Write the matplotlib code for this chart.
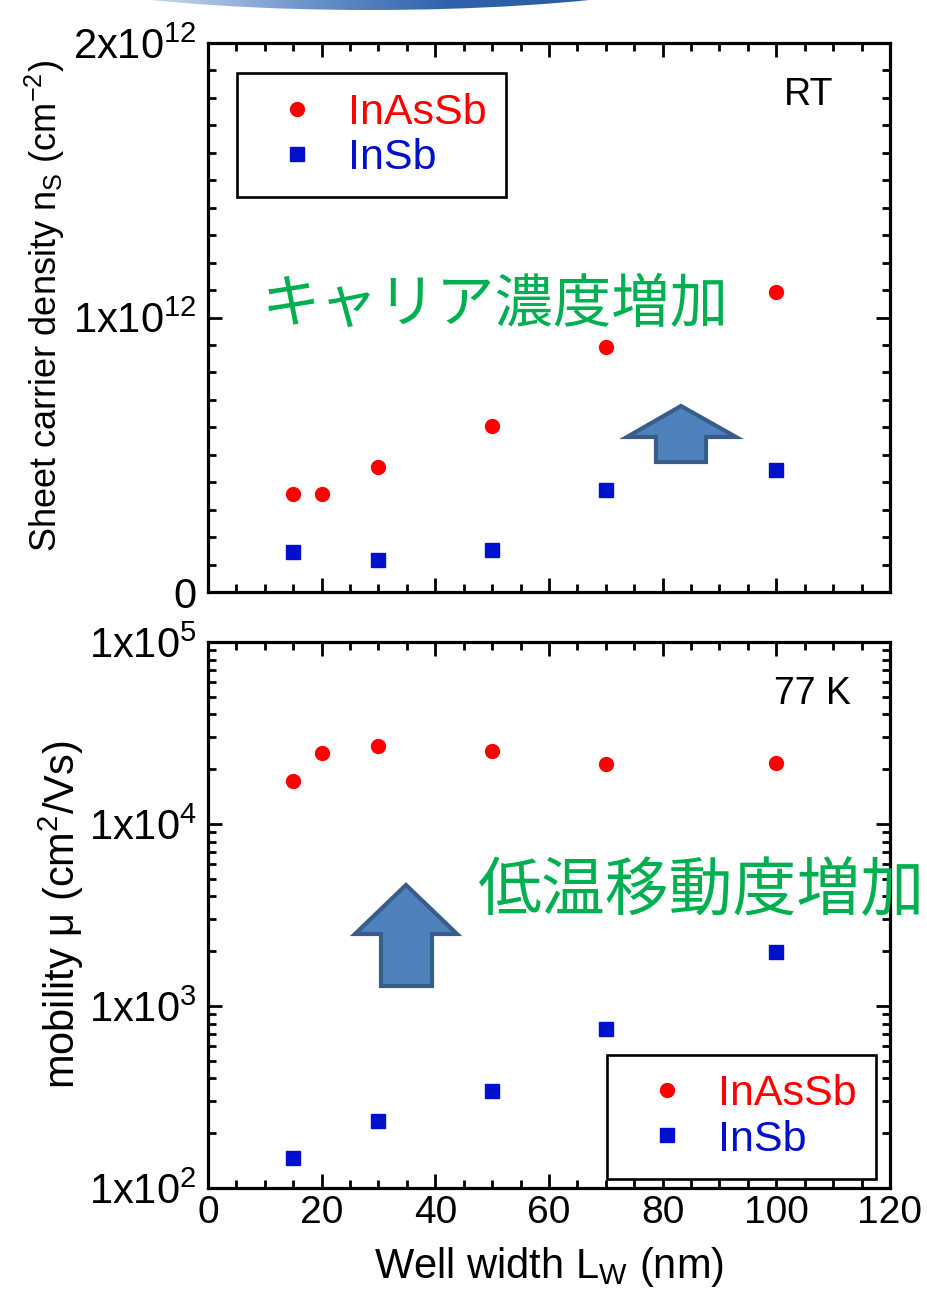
import numpy as np
import matplotlib
matplotlib.use("Agg")
import matplotlib.pyplot as plt
from matplotlib.patches import Polygon, Ellipse
from matplotlib.colors import LinearSegmentedColormap
from matplotlib.ticker import MultipleLocator, FixedLocator, LogLocator, NullFormatter, FuncFormatter

plt.rcParams['font.family'] = ['Liberation Sans', 'DejaVu Sans']
plt.rcParams['mathtext.fontset'] = 'custom'
plt.rcParams['mathtext.rm'] = 'Liberation Sans'
plt.rcParams['mathtext.it'] = 'Liberation Sans:italic'
plt.rcParams['mathtext.bf'] = 'Liberation Sans:bold'

# ---- data ----
well_width_inassb = [15, 20, 30, 50, 70, 100]
well_width_insb = [15, 30, 50, 70, 100]
ns_inassb = [0.357e12, 0.357e12, 0.455e12, 0.605e12, 0.893e12, 1.093e12]
ns_insb = [0.146e12, 0.117e12, 0.153e12, 0.372e12, 0.444e12]
mu_inassb = [17200, 24500, 26900, 25200, 21400, 21600]
mu_insb = [146, 233, 341, 748, 1980]
series_labels = ["InAsSb", "InSb"]
top_yticks = [0, 1e12, 2e12]
top_yticklabels = ["0", "1x10$^{12}$", "2x10$^{12}$"]

RED = "#FF0000"
BLUE = "#0010CC"
GREEN = "#00B050"
W, H = 928, 1302

fig = plt.figure(figsize=(W / 100, H / 100), dpi=100)


def fx(px):
    return px / W


def fy(py):
    return 1 - py / H


ax1 = fig.add_axes([fx(208), fy(592), fx(890) - fx(208), fy(43) - fy(592)])
ax2 = fig.add_axes([fx(208), fy(1188), fx(890) - fx(208), fy(642) - fy(1188)])


def style(ax):
    for s in ax.spines.values():
        s.set_linewidth(2.3)
    ax.tick_params(which='both', direction='in', top=True, right=True, width=2.0)
    ax.tick_params(which='major', length=10)
    ax.tick_params(which='minor', length=5.5)
    ax.tick_params(axis='x', pad=5, labelsize=28)
    ax.tick_params(axis='y', pad=8, labelsize=30)
    ax.set_xlim(0, 120)
    ax.xaxis.set_major_locator(MultipleLocator(20))
    ax.xaxis.set_minor_locator(MultipleLocator(5))


# ---- top panel: sheet carrier density ----
style(ax1)
ax1.plot(well_width_inassb, ns_inassb, 'o', color=RED, ms=10, label=series_labels[0])
ax1.plot(well_width_insb, ns_insb, 's', color=BLUE, ms=10.5, label=series_labels[1])
ax1.set_ylim(0, 2e12)
ax1.yaxis.set_major_locator(FixedLocator(top_yticks))
ax1.set_yticklabels(top_yticklabels)
ax1.yaxis.set_minor_locator(MultipleLocator(1e11))
ax1.tick_params(axis='x', labelbottom=False)
ax1.set_ylabel("Sheet carrier density n$_\\mathregular{S}$ (cm$^{-2}$)", fontsize=26)
ax1.yaxis.set_label_coords(-0.207, 0.52)
ax1.text(0.88, 0.905, "RT", transform=ax1.transAxes, fontsize=27,
         ha='center', va='center')
ax1.text(0.079, 0.522, "キャリア濃度増加", transform=ax1.transAxes,
         fontsize=42, color=GREEN, ha='left', va='center',
         family=['Noto Sans CJK JP', 'DejaVu Sans'])

# ---- bottom panel: 77 K mobility ----
style(ax2)
ax2.plot(well_width_inassb, mu_inassb, 'o', color=RED, ms=10, label=series_labels[0])
ax2.plot(well_width_insb, mu_insb, 's', color=BLUE, ms=10.5, label=series_labels[1])
ax2.set_yscale('log')
ax2.set_ylim(1e2, 1e5)
ax2.yaxis.set_major_locator(LogLocator(base=10, numticks=10))
ax2.yaxis.set_minor_locator(LogLocator(base=10, subs=np.arange(2, 10), numticks=20))
ax2.yaxis.set_minor_formatter(NullFormatter())
ax2.yaxis.set_major_formatter(FuncFormatter(lambda v, p: "1x10$^{%d}$" % round(np.log10(v))))
ax2.set_ylabel("mobility \u03bc (cm$^2$/Vs)", fontsize=30)
ax2.yaxis.set_label_coords(-0.179, 0.5)
ax2.set_xlabel("Well width L$_\\mathregular{W}$ (nm)", fontsize=30, labelpad=10)
ax2.text(0.887, 0.905, "77 K", transform=ax2.transAxes, fontsize=27,
         ha='center', va='center')
ax2.text(0.396, 0.543, "低温移動度増加", transform=ax2.transAxes,
         fontsize=46, color=GREEN, ha='left', va='center',
         family=['Noto Sans CJK JP', 'DejaVu Sans'])


def add_legend(ax, anchor):
    leg = ax.legend(loc='upper left', bbox_to_anchor=anchor, borderaxespad=0,
                    fontsize=31, frameon=True, fancybox=False, framealpha=1,
                    edgecolor='black', borderpad=0.45, handlelength=1.89,
                    handletextpad=0.24, labelspacing=0.12)
    leg.get_frame().set_linewidth(1.9)
    for txt, col in zip(leg.get_texts(), [RED, BLUE]):
        txt.set_color(col)
    return leg


add_legend(ax1, (0.0425, 0.945))
add_legend(ax2, (0.585, 0.2436))


# ---- block arrows ----
def block_arrow(tip, head_y, head_l, head_r, shaft_l, shaft_r, bottom):
    pts = [(tip[0], tip[1]), (head_r, head_y), (shaft_r, head_y), (shaft_r, bottom),
           (shaft_l, bottom), (shaft_l, head_y), (head_l, head_y)]
    poly = Polygon([(fx(x), fy(y)) for x, y in pts], closed=True,
                   transform=fig.transFigure, facecolor="#4F81BD",
                   edgecolor="#385D8A", linewidth=3, joinstyle='miter', zorder=5)
    fig.patches.append(poly)


block_arrow((681, 406), 437, 627, 736, 656, 706, 462)
block_arrow((406, 885), 934, 355, 457, 381, 432, 986)

# ---- decorative banner edge along the top ----
bax = fig.add_axes([0, fy(40), 1, 40 / H])
bax.set_xlim(0, W)
bax.set_ylim(40, 0)
bax.axis('off')
grad = np.linspace(0, 1, 256).reshape(1, -1)
cmap = LinearSegmentedColormap.from_list("band", ["#C9DAEF", "#6F96CC", "#2F62AA", "#2A5CA3"])
im = bax.imshow(grad, extent=[150, 600, 40, 0], aspect='auto', cmap=cmap)
clip = Ellipse((370, -50), 796, 120, transform=bax.transData)
im.set_clip_path(clip)

fig.savefig("out.png", dpi=100)
